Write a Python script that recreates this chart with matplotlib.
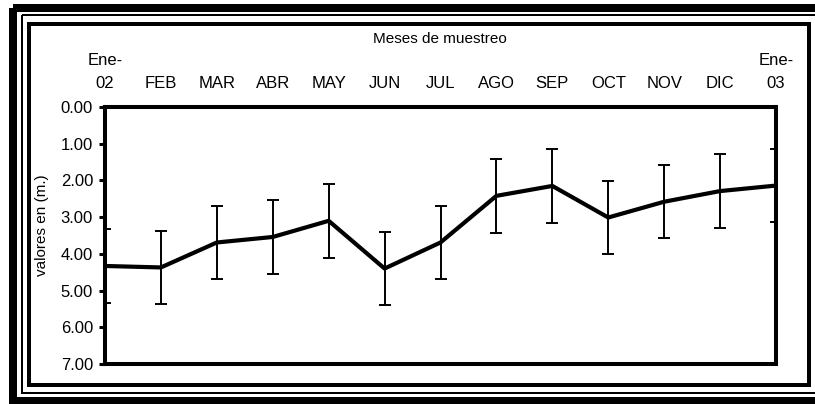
import matplotlib.pyplot as plt
from matplotlib.patches import Rectangle

plt.rcParams['font.family'] = ['Liberation Sans', 'DejaVu Sans']

# monthly sampling values (m) with +/- 1.0 error
meses = ["Ene-\n02", "FEB", "MAR", "ABR", "MAY", "JUN", "JUL", "AGO",
         "SEP", "OCT", "NOV", "DIC", "Ene-\n03"]
valores = [4.33, 4.37, 3.69, 3.54, 3.10, 4.40, 3.69, 2.42, 2.15, 3.01, 2.58, 2.29, 2.14]
error = [1.0] * 13
yticks = [0, 1, 2, 3, 4, 5, 6, 7]

W, H = 815, 404
fig = plt.figure(figsize=(W / 100, H / 100), dpi=100)

# frame drawn in pixel units on a full-figure overlay
bg = fig.add_axes([0, 0, 1, 1], zorder=-1)
bg.set_xlim(0, W)
bg.set_ylim(H, 0)
bg.axis('off')
px = 0.72
bg.add_patch(Rectangle((13, 8), 840, 393, fill=False, ec='black', lw=8 * px))
bg.add_patch(Rectangle((21.7, 15), 840, 378, fill=False, ec='black', lw=2 * px))
bg.add_patch(Rectangle((29, 24), 780, 361, fill=False, ec='black', lw=4 * px))

left, right, top, bottom = 105, 776, 107, 364
ax = fig.add_axes([left / W, (H - bottom) / H, (right - left) / W, (bottom - top) / H])

x = list(range(len(meses)))
ax.errorbar(x, valores, yerr=error, color='black', lw=3, elinewidth=1.4,
            capsize=4.3, capthick=1.4)

ax.set_xlim(0, 12)
ax.set_ylim(7, 0)
ax.set_yticks(yticks)
ax.set_yticklabels(["%.2f" % v for v in yticks], fontsize=12)
ax.xaxis.tick_top()
ax.set_xticks(x)
ax.set_xticklabels(meses, fontsize=12, linespacing=1.63)
ax.tick_params(axis='x', length=0, pad=11.5)
ax.tick_params(axis='y', direction='out', length=4.3, width=2.2, pad=4.3)
for s in ax.spines.values():
    s.set_linewidth(2.9)

fig.text(440 / W, 1 - 39 / H, "Meses de muestreo", fontsize=11, ha='center', va='center')
fig.text(42 / W, 1 - 225 / H, "valores en (m.)", fontsize=11, rotation=90,
         ha='center', va='center')

fig.savefig("out.png", dpi=100)
